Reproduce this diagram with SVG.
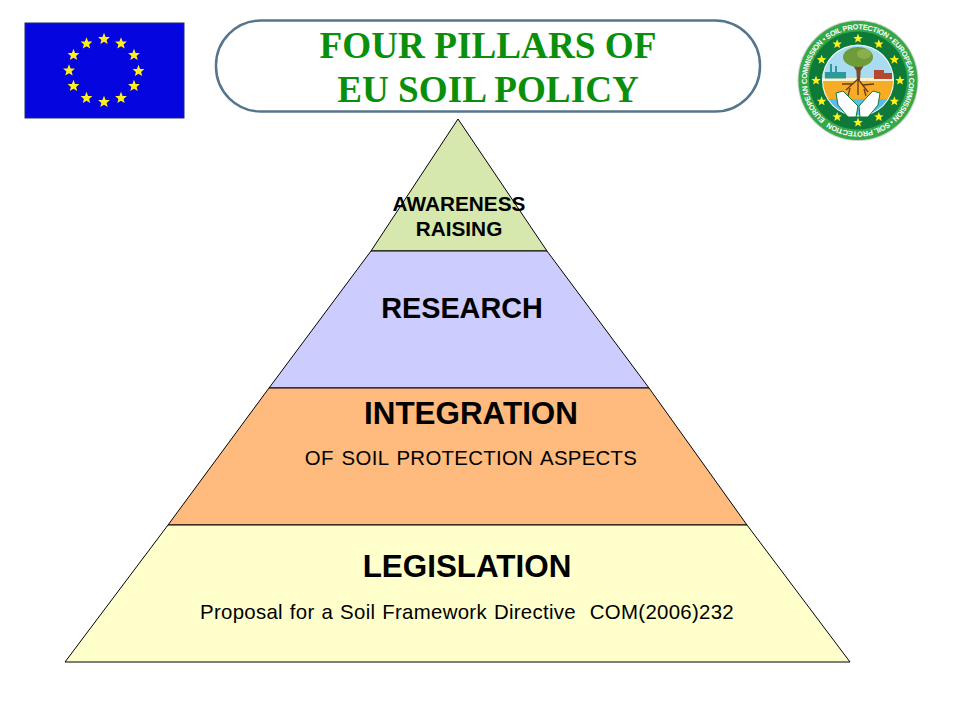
<svg xmlns="http://www.w3.org/2000/svg" xmlns:xlink="http://www.w3.org/1999/xlink" width="960" height="720" viewBox="0 0 960 720">
<style>
.tier{stroke:#000;stroke-width:1;stroke-linejoin:miter}
.s{font-family:"Liberation Sans",Arial,sans-serif;fill:#000;text-anchor:middle}
.b{font-weight:bold}
.sub{font-size:20.4px;letter-spacing:.3px}
.title{font-family:"Liberation Serif","Times New Roman",serif;font-weight:bold;font-size:37.2px;fill:#0a8f0a;text-anchor:middle}
.ring{font-family:"Liberation Sans",Arial,sans-serif;font-weight:bold;font-size:7.4px;fill:#fff}
</style>
<defs>
<polygon id="star" points="0,-6.2 1.6,-2 5.9,-1.9 2.6,0.9 3.7,5 0,2.7 -3.7,5 -2.6,0.9 -5.9,-1.9 -1.6,-2" fill="#fff01a"/>
<clipPath id="scene"><circle cx="858" cy="80.5" r="35"/></clipPath>
<path id="ringpath" d="M825.2,119.6 A51,51 0 1 1 890.8,41.4 A51,51 0 1 1 825.2,119.6"/>
</defs>
<rect width="960" height="720" fill="#fff"/>
<g id="eu-flag">
<rect x="25" y="23" width="159" height="95" fill="#0505e0" stroke="#1d2a6e" stroke-width="1"/>
<use xlink:href="#star" href="#star" x="104" y="39"/>
<use xlink:href="#star" href="#star" x="121" y="43.500"/>
<use xlink:href="#star" href="#star" x="134" y="55"/>
<use xlink:href="#star" href="#star" x="138.500" y="71"/>
<use xlink:href="#star" href="#star" x="134" y="86"/>
<use xlink:href="#star" href="#star" x="121" y="98"/>
<use xlink:href="#star" href="#star" x="104" y="102"/>
<use xlink:href="#star" href="#star" x="86.500" y="98"/>
<use xlink:href="#star" href="#star" x="73.500" y="86"/>
<use xlink:href="#star" href="#star" x="69" y="70.500"/>
<use xlink:href="#star" href="#star" x="73.500" y="55"/>
<use xlink:href="#star" href="#star" x="86.500" y="43.500"/>
</g>
<g id="title">
<rect x="216" y="20.500" width="544" height="91" rx="45" ry="45" fill="#fff" stroke="#55758c" stroke-width="2.500"/>
<text class="title" x="488" y="58">FOUR PILLARS OF</text>
<text class="title" x="488" y="102">EU SOIL POLICY</text>
</g>
<g id="emblem">
<circle cx="858" cy="80.500" r="60.500" fill="#c9d6c4"/>
<circle cx="858" cy="80.500" r="59.500" fill="#35a84a"/>
<circle cx="858" cy="80.500" r="49" fill="#0e7a3a"/>
<text class="ring"><textPath xlink:href="#ringpath" href="#ringpath" textLength="316" lengthAdjust="spacing">EUROPEAN COMMISSION • SOIL PROTECTION • EUROPEAN COMMISSION • SOIL PROTECTION</textPath></text>
<circle cx="858" cy="80.500" r="36" fill="#fff"/>
<g clip-path="url(#scene)">
<rect x="820" y="44" width="76" height="34" fill="#a9dcf0"/>
<rect x="820" y="78" width="76" height="3" fill="#fff4c8"/>
<rect x="820" y="81" width="76" height="18" fill="#f7ac25"/>
<rect x="820" y="99" width="76" height="18" fill="#58bde8"/>
<rect x="825" y="72" width="21" height="6.500" fill="#2c9a9a"/>
<rect x="830" y="64" width="2" height="8" fill="#2c9a9a"/>
<rect x="835" y="66" width="2" height="6" fill="#2c9a9a"/>
<rect x="874" y="70" width="10" height="9" fill="#b5482f"/>
<rect x="884" y="73" width="8" height="6" fill="#b5482f"/>
<path d="M856,66 L861,66 L860,80 L857,80Z" fill="#7a4a28"/>
<path d="M851,60 L857,70 M866,60 L860,70" stroke="#7a4a28" stroke-width="2" fill="none"/>
<ellipse cx="858" cy="57" rx="15" ry="10" fill="#6f9c3a"/>
<ellipse cx="864" cy="54" rx="7" ry="5" fill="#89b04c"/>
<path d="M858,79 L846,90 M858,79 L868,92 M858,79 L858,95 M853,84 L842,84 M863,85 L874,84 M850,88 L848,96 M864,89 L866,96" stroke="#6a3a1c" stroke-width="1.300" fill="none"/>
</g>
<g fill="#fff" stroke="#0e7a3a" stroke-width="1">
<path d="M836,93 L843,91 L848,96 L858,106 L856,117 L848,117 L838,105Z"/>
<path d="M880,93 L873,91 L868,96 L859,106 L860,117 L868,117 L878,105Z"/>
</g>
<g transform="translate(858 80.500) scale(.8)">
<use xlink:href="#star" href="#star" x="0" y="-52.500"/>
<use xlink:href="#star" href="#star" x="26" y="-45.500"/>
<use xlink:href="#star" href="#star" x="45.500" y="-26"/>
<use xlink:href="#star" href="#star" x="52.500" y="0"/>
<use xlink:href="#star" href="#star" x="45.500" y="26"/>
<use xlink:href="#star" href="#star" x="26" y="45.500"/>
<use xlink:href="#star" href="#star" x="0" y="52.500"/>
<use xlink:href="#star" href="#star" x="-26" y="45.500"/>
<use xlink:href="#star" href="#star" x="-45.500" y="26"/>
<use xlink:href="#star" href="#star" x="-52.500" y="0"/>
<use xlink:href="#star" href="#star" x="-45.500" y="-26"/>
<use xlink:href="#star" href="#star" x="-26" y="-45.500"/>
</g>
</g>
<g id="awareness">
<polygon class="tier" points="458,119 547,251 371,251" fill="#d7e8ae"/>
<text class="s b" font-size="20.800" x="459" y="211">AWARENESS</text>
<text class="s b" font-size="20.800" x="459" y="236">RAISING</text>
</g>
<g id="research">
<polygon class="tier" points="371,251 547,251 649,388 269,388" fill="#ccccff"/>
<text class="s b" font-size="28.800" x="462" y="318">RESEARCH</text>
</g>
<g id="integration">
<polygon class="tier" points="269,388 649,388 747,525 168,525" fill="#ffbb7d"/>
<text class="s b" font-size="31.400" x="471" y="424">INTEGRATION</text>
<text class="s sub" word-spacing="2" x="471" y="465">OF SOIL PROTECTION ASPECTS</text>
</g>
<g id="legislation">
<polygon class="tier" points="168,525 747,525 850,662 65,662" fill="#ffffcc"/>
<text class="s b" font-size="31.400" x="467" y="577">LEGISLATION</text>
<text class="s sub" word-spacing="1" x="467" y="619" xml:space="preserve">Proposal for a Soil Framework Directive  COM(2006)232</text>
</g>
</svg>
